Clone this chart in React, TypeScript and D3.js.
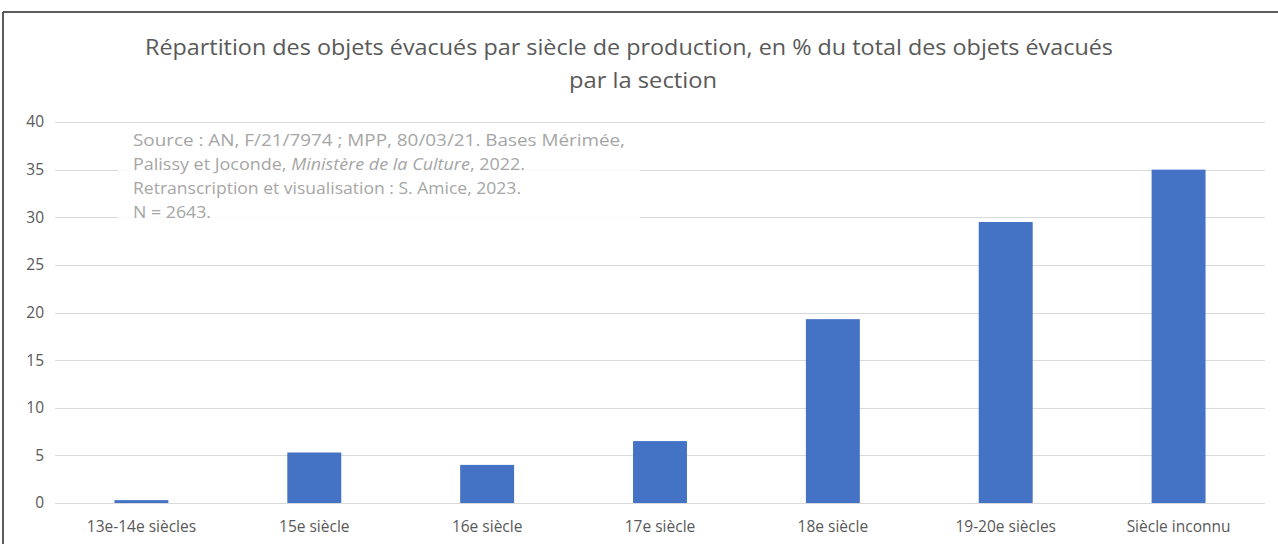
import React from "react";
import * as d3 from "d3";

const categories = [
  "13e-14e siècles",
  "15e siècle",
  "16e siècle",
  "17e siècle",
  "18e siècle",
  "19-20e siècles",
  "Siècle inconnu",
];
const values = [0.3, 5.3, 4.0, 6.5, 19.3, 29.5, 35.0];
const yTicks = [0, 5, 10, 15, 20, 25, 30, 35, 40];
const titleLines = [
  "Répartition des objets évacués par siècle de production, en % du total des objets évacués",
  "par la section",
];

const W = 1278;
const H = 544;
const FONT = "'Open Sans', 'Noto Sans', sans-serif";

export default function App() {
  const x = d3
    .scaleBand<string>()
    .domain(categories)
    .range([55, 1265])
    .paddingInner(0.688)
    .paddingOuter(0.344);
  const y = d3.scaleLinear().domain([0, 40]).range([503, 122]);

  return (
    <svg
      width={W}
      height={H}
      style={{ position: "absolute", left: 0, top: 0, background: "#fff" }}
      fontFamily={FONT}
    >
      <rect x={0} y={0} width={W} height={H} fill="#fff" />
      {/* frame */}
      <line x1={3} x2={W} y1={12} y2={12} stroke="#262626" strokeWidth={1.5} />
      <line x1={3} x2={3} y1={12} y2={H} stroke="#262626" strokeWidth={1.5} />

      {/* title */}
      <text
        x={629}
        y={55}
        textAnchor="middle"
        fontSize={21}
        fill="#595959"
        textLength={968}
        lengthAdjust="spacingAndGlyphs"
      >
        {titleLines[0]}
      </text>
      <text
        x={643}
        y={88}
        textAnchor="middle"
        fontSize={21}
        fill="#595959"
        textLength={148}
        lengthAdjust="spacingAndGlyphs"
      >
        {titleLines[1]}
      </text>

      {/* gridlines */}
      {yTicks.map((t) => (
        <g key={t}>
          <line
            x1={55}
            x2={1265}
            y1={Math.round(y(t)) + 0.5}
            y2={Math.round(y(t)) + 0.5}
            stroke="#d9d9d9"
            strokeWidth={1}
          />
          <text
            x={44}
            y={y(t)}
            dy="0.35em"
            textAnchor="end"
            fontSize={15.5}
            fill="#595959"
          >
            {t}
          </text>
        </g>
      ))}

      {/* bars */}
      {categories.map((c, i) => (
        <rect
          key={c}
          x={x(c)}
          y={y(values[i])}
          width={x.bandwidth()}
          height={y(0) - y(values[i])}
          fill="#4472c4"
        />
      ))}

      {/* category labels */}
      {categories.map((c) => (
        <text
          key={c}
          x={(x(c) ?? 0) + x.bandwidth() / 2}
          y={532}
          textAnchor="middle"
          fontSize={15.5}
          fill="#595959"
        >
          {c}
        </text>
      ))}

      {/* source box */}
      <rect x={118} y={124} width={522} height={104} fill="#fff" opacity={0.88} />
      <g fontSize={15.5} fill="#a6a6a6">
        <text x={133} y={146} textLength={492} lengthAdjust="spacingAndGlyphs">
          Source : AN, F/21/7974 ; MPP, 80/03/21. Bases Mérimée,
        </text>
        <text x={133} y={170} textLength={392} lengthAdjust="spacingAndGlyphs">
          Palissy et Joconde, <tspan fontStyle="italic">Ministère de la Culture</tspan>, 2022.
        </text>
        <text x={133} y={194} textLength={388} lengthAdjust="spacingAndGlyphs">
          Retranscription et visualisation : S. Amice, 2023.
        </text>
        <text x={133} y={218} textLength={78} lengthAdjust="spacingAndGlyphs">
          N = 2643.
        </text>
      </g>
    </svg>
  );
}
